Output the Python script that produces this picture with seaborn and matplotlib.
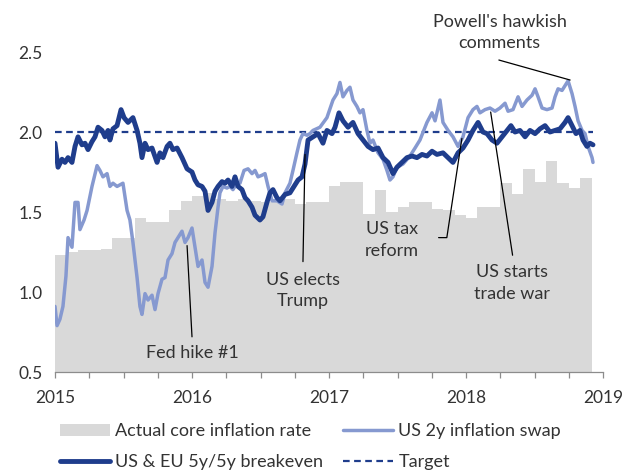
import numpy as np
import pandas as pd
import matplotlib
matplotlib.use("Agg")
import matplotlib.pyplot as plt
from matplotlib.patches import Patch
from matplotlib.lines import Line2D
from matplotlib.ticker import MultipleLocator
import seaborn as sns

# ---- data ----
START_YEAR = 2015
TARGET = 2.0

# monthly actual core inflation, Jan 2015 .. Nov 2018
core_infl = [
    1.23, 1.25, 1.26, 1.26, 1.27, 1.34, 1.34, 1.46, 1.44, 1.44, 1.51, 1.57,
    1.60, 1.62, 1.58, 1.57, 1.58, 1.57, 1.56, 1.57, 1.58, 1.55, 1.56, 1.56,
    1.66, 1.69, 1.69, 1.49, 1.64, 1.50, 1.53, 1.56, 1.56, 1.52, 1.51, 1.48,
    1.46, 1.53, 1.53, 1.68, 1.61, 1.77, 1.69, 1.82, 1.68, 1.65, 1.71,
]

# US & EU 5y/5y breakeven (decimal year, value)
be_t = [
    2015.000, 2015.022, 2015.051, 2015.073, 2015.095, 2015.124, 2015.146, 2015.168,
    2015.197, 2015.219, 2015.241, 2015.270, 2015.292, 2015.314, 2015.343, 2015.365,
    2015.387, 2015.401, 2015.423, 2015.453, 2015.482, 2015.504, 2015.533, 2015.569,
    2015.599, 2015.620, 2015.635, 2015.657, 2015.679, 2015.708, 2015.745, 2015.766,
    2015.788, 2015.818, 2015.839, 2015.861, 2015.891, 2015.927, 2015.964, 2016.000,
    2016.022, 2016.044, 2016.073, 2016.095, 2016.117, 2016.146, 2016.168, 2016.190,
    2016.219, 2016.241, 2016.263, 2016.292, 2016.314, 2016.336, 2016.365, 2016.387,
    2016.409, 2016.438, 2016.460, 2016.496, 2016.518, 2016.547, 2016.569, 2016.591,
    2016.620, 2016.642, 2016.679, 2016.715, 2016.737, 2016.774, 2016.803, 2016.825,
    2016.847, 2016.883, 2016.920, 2016.956, 2016.985, 2017.022, 2017.044, 2017.073,
    2017.102, 2017.139, 2017.175, 2017.212, 2017.248, 2017.285, 2017.321, 2017.358,
    2017.394, 2017.431, 2017.467, 2017.496, 2017.533, 2017.569, 2017.606, 2017.642,
    2017.679, 2017.715, 2017.752, 2017.788, 2017.832, 2017.869, 2017.905, 2017.942,
    2017.978, 2018.015, 2018.051, 2018.088, 2018.124, 2018.153, 2018.190, 2018.226,
    2018.263, 2018.299, 2018.328, 2018.358, 2018.394, 2018.431, 2018.467, 2018.504,
    2018.540, 2018.577, 2018.613, 2018.650, 2018.686, 2018.723, 2018.745, 2018.774,
    2018.803, 2018.832, 2018.854, 2018.883, 2018.905, 2018.927,
]
be_val = [
    1.93, 1.78, 1.83, 1.81, 1.84, 1.81, 1.91, 1.97,
    1.92, 1.93, 1.89, 1.94, 1.97, 2.03, 2.01, 1.97,
    2.01, 1.95, 2.02, 2.04, 2.14, 2.09, 2.06, 2.09,
    2.01, 1.93, 1.84, 1.93, 1.89, 1.90, 1.81, 1.87,
    1.84, 1.91, 1.93, 1.89, 1.90, 1.84, 1.77, 1.75,
    1.70, 1.67, 1.66, 1.63, 1.51, 1.56, 1.63, 1.66,
    1.69, 1.68, 1.70, 1.66, 1.72, 1.66, 1.64, 1.59,
    1.57, 1.53, 1.48, 1.45, 1.47, 1.56, 1.62, 1.64,
    1.59, 1.57, 1.61, 1.62, 1.65, 1.70, 1.72, 1.80,
    1.95, 1.97, 1.99, 1.93, 2.01, 1.99, 2.03, 2.12,
    2.07, 2.03, 2.06, 1.99, 1.95, 1.91, 1.89, 1.90,
    1.84, 1.81, 1.74, 1.78, 1.81, 1.84, 1.85, 1.84,
    1.86, 1.85, 1.88, 1.86, 1.87, 1.84, 1.81, 1.87,
    1.90, 1.95, 2.01, 2.06, 2.00, 1.99, 1.95, 1.93,
    1.97, 2.01, 2.04, 2.00, 2.01, 1.97, 2.01, 1.99,
    2.02, 2.04, 2.00, 2.01, 2.02, 2.06, 2.09, 2.04,
    1.99, 2.01, 1.95, 1.91, 1.93, 1.92,
]

# US 2y inflation swap (decimal year, value)
swap_t = [
    2015.000, 2015.015, 2015.036, 2015.058, 2015.080, 2015.095, 2015.124, 2015.146,
    2015.168, 2015.182, 2015.212, 2015.234, 2015.270, 2015.307, 2015.328, 2015.350,
    2015.380, 2015.401, 2015.423, 2015.453, 2015.474, 2015.496, 2015.526, 2015.547,
    2015.569, 2015.599, 2015.620, 2015.635, 2015.657, 2015.679, 2015.708, 2015.730,
    2015.752, 2015.781, 2015.803, 2015.825, 2015.854, 2015.876, 2015.898, 2015.927,
    2015.949, 2015.971, 2016.000, 2016.022, 2016.044, 2016.073, 2016.095, 2016.117,
    2016.146, 2016.168, 2016.190, 2016.204, 2016.226, 2016.255, 2016.277, 2016.299,
    2016.328, 2016.350, 2016.380, 2016.409, 2016.438, 2016.460, 2016.482, 2016.511,
    2016.533, 2016.555, 2016.584, 2016.620, 2016.657, 2016.679, 2016.715, 2016.737,
    2016.766, 2016.788, 2016.810, 2016.839, 2016.861, 2016.883, 2016.934, 2016.985,
    2017.029, 2017.058, 2017.080, 2017.102, 2017.131, 2017.153, 2017.175, 2017.204,
    2017.226, 2017.248, 2017.277, 2017.299, 2017.321, 2017.358, 2017.394, 2017.423,
    2017.445, 2017.467, 2017.496, 2017.540, 2017.591, 2017.628, 2017.664, 2017.715,
    2017.752, 2017.774, 2017.810, 2017.832, 2017.869, 2017.905, 2017.942, 2017.978,
    2018.015, 2018.051, 2018.080, 2018.102, 2018.139, 2018.175, 2018.212, 2018.248,
    2018.285, 2018.307, 2018.343, 2018.380, 2018.409, 2018.445, 2018.482, 2018.504,
    2018.526, 2018.555, 2018.591, 2018.628, 2018.650, 2018.672, 2018.701, 2018.723,
    2018.745, 2018.774, 2018.796, 2018.818, 2018.847, 2018.869, 2018.891, 2018.920,
    2018.927,
]
swap_val = [
    0.91, 0.79, 0.83, 0.91, 1.10, 1.34, 1.28, 1.56,
    1.56, 1.39, 1.45, 1.51, 1.66, 1.79, 1.76, 1.72,
    1.74, 1.66, 1.68, 1.66, 1.67, 1.68, 1.51, 1.45,
    1.31, 1.09, 0.91, 0.86, 0.99, 0.95, 0.98, 0.89,
    0.99, 1.08, 1.09, 1.20, 1.24, 1.31, 1.34, 1.38,
    1.31, 1.34, 1.40, 1.28, 1.16, 1.20, 1.06, 1.03,
    1.16, 1.37, 1.53, 1.62, 1.66, 1.65, 1.66, 1.64,
    1.68, 1.68, 1.76, 1.77, 1.74, 1.76, 1.72, 1.73,
    1.74, 1.66, 1.57, 1.57, 1.55, 1.62, 1.68, 1.76,
    1.87, 1.95, 1.99, 1.98, 1.99, 2.01, 2.03, 2.09,
    2.20, 2.24, 2.31, 2.22, 2.26, 2.28, 2.20, 2.16,
    2.12, 2.14, 2.01, 1.93, 1.95, 1.87, 1.83, 1.76,
    1.70, 1.72, 1.78, 1.80, 1.85, 1.90, 1.95, 2.06,
    2.12, 2.07, 2.20, 2.06, 2.01, 1.97, 1.91, 1.97,
    2.09, 2.14, 2.16, 2.12, 2.14, 2.15, 2.13, 2.15,
    2.18, 2.13, 2.14, 2.22, 2.16, 2.20, 2.23, 2.27,
    2.22, 2.15, 2.14, 2.15, 2.22, 2.27, 2.26, 2.29,
    2.32, 2.24, 2.16, 2.07, 2.01, 1.99, 1.91, 1.84,
    1.81,
]

x_ticks = [2015, 2016, 2017, 2018, 2019]
y_ticks = [0.5, 1.0, 1.5, 2.0, 2.5]

GREY = "#d9d9d9"
LIGHT = "#8699d0"
DARK = "#1f3d8c"
TXT = "#333333"
FS = 13

sns.set_style("white")
plt.rcParams["font.family"] = ["Lato", "DejaVu Sans"]
plt.rcParams["font.size"] = FS

fig = plt.figure(figsize=(6.25, 4.73), dpi=100)
ax = fig.add_axes([0.088, 0.2135, 0.8768, 0.6765])

# monthly bars as a weighted histogram with one bin per month
n = len(core_infl)
bars = pd.DataFrame({
    "t": START_YEAR + (np.arange(n) + 0.5) / 12,
    "v": core_infl,
})
sns.histplot(data=bars, x="t", weights="v", bins=n,
             binrange=(START_YEAR, START_YEAR + n / 12), color=GREY,
             alpha=1, linewidth=0, ax=ax, zorder=1)

sns.lineplot(x=[be_t[0], be_t[-1]], y=[TARGET, TARGET], ax=ax, color=DARK,
             linewidth=1.6, dashes=(3, 2), zorder=2)
sns.lineplot(x=swap_t, y=swap_val, ax=ax, color=LIGHT, linewidth=2.5,
             sort=False, estimator=None, zorder=3)
sns.lineplot(x=be_t, y=be_val, ax=ax, color=DARK, linewidth=3.5,
             sort=False, estimator=None, zorder=4)

ax.set_xlim(x_ticks[0], x_ticks[-1])
ax.set_ylim(y_ticks[0], y_ticks[-1])
ax.set_xticks(x_ticks)
ax.xaxis.set_minor_locator(MultipleLocator(0.25))
ax.set_yticks(y_ticks)
ax.set_yticklabels([f"{v:.1f}" for v in y_ticks])
ax.set_xlabel("")
ax.set_ylabel("")
for s in ["top", "right", "left"]:
    ax.spines[s].set_visible(False)
ax.spines["bottom"].set_color("#8c8c8c")
ax.spines["bottom"].set_linewidth(0.9)
ax.tick_params(axis="x", which="both", direction="out", length=4, width=0.9,
               color="#8c8c8c", pad=9, labelsize=12.5, labelcolor=TXT, bottom=True)
ax.tick_params(axis="y", length=0, pad=9, labelsize=12.5, labelcolor=TXT)

# annotations
lk = dict(color="black", linewidth=0.9, zorder=5, clip_on=False)
tk = dict(ha="center", va="center", fontsize=FS, color=TXT, linespacing=1.4)

ax.text(2018.245, 2.62, "Powell's hawkish\ncomments", clip_on=False, **tk)
ax.plot([2018.24, 2018.76], [2.45, 2.325], **lk)

ax.text(2016.81, 1.01, "US elects\nTrump", **tk)
ax.plot([2016.825, 2016.81], [1.86, 1.19], **lk)

ax.text(2016.0, 0.62, "Fed hike #1", **tk)
ax.plot([2015.964, 2016.0], [1.29, 0.72], **lk)

ax.text(2017.46, 1.325, "US tax\nreform", **tk)
ax.plot([2017.80, 2017.86, 2017.97], [1.34, 1.34, 1.96], **lk)

ax.text(2018.336, 1.056, "US starts\ntrade war", **tk)
ax.plot([2018.34, 2018.18], [1.23, 2.125], **lk)

handles = [
    Patch(facecolor=GREY, edgecolor="none", label="Actual core inflation rate"),
    Line2D([], [], color=DARK, linewidth=3.5, label="US & EU 5y/5y breakeven"),
    Line2D([], [], color=LIGHT, linewidth=2.5, label="US 2y inflation swap"),
    Line2D([], [], color=DARK, linewidth=1.6, dashes=(3, 2), label="Target"),
]
fig.legend(handles=handles, ncol=2, loc="upper left", bbox_to_anchor=(0.085, 0.12),
           frameon=False, fontsize=FS, handlelength=2.75, handletextpad=0.3,
           columnspacing=1.1, labelspacing=0.8, labelcolor=TXT, borderaxespad=0)

fig.savefig("out.png", dpi=100)
